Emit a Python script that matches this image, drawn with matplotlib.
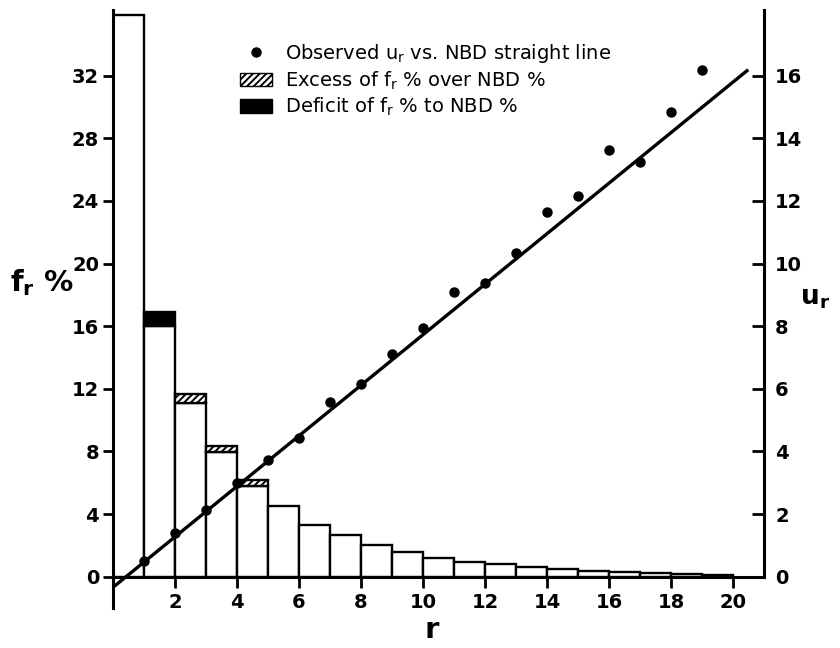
import matplotlib
matplotlib.use("Agg")
import matplotlib.pyplot as plt
import numpy as np
from matplotlib.lines import Line2D
from matplotlib.patches import Patch

plt.rcParams['font.family'] = ['DejaVu Sans']
plt.rcParams['hatch.linewidth'] = 1.4

# Frequency distribution f_r % (observed) and NBD expectation, r = 0..19
r_bins = np.arange(0, 20)
f_obs = [35.9, 16.0, 11.7, 8.35, 6.2, 4.5, 3.3, 2.65, 2.05, 1.55,
         1.2, 0.97, 0.82, 0.62, 0.48, 0.38, 0.30, 0.24, 0.18, 0.13]
f_nbd = [35.9, 16.9, 11.1, 7.95, 5.8, 4.5, 3.3, 2.65, 2.05, 1.55,
         1.2, 0.97, 0.82, 0.62, 0.48, 0.38, 0.30, 0.24, 0.18, 0.13]

# Observed u_r values and the fitted NBD straight line
r_pts = np.arange(1, 20)
u_obs = [0.50, 1.40, 2.12, 2.99, 3.74, 4.43, 5.59, 6.15, 7.12, 7.93,
         9.09, 9.37, 10.34, 11.66, 12.15, 13.63, 13.23, 14.84, 16.19]
line_r = [0.05, 20.45]
line_u = [-0.30, 16.16]

x_ticks = list(range(2, 21, 2))
f_ticks = list(range(0, 33, 4))
u_ticks = list(range(0, 17, 2))

fig = plt.figure(figsize=(8.4, 6.48), dpi=100)
ax = fig.add_axes([113 / 840, 40 / 648, 651 / 840, 598 / 648])
ax.set_xlim(0, 21)
ax.set_ylim(-2, 36.2)

obs = np.array(f_obs)
nbd = np.array(f_nbd)
base = np.minimum(obs, nbd)
lw_bar = 1.7
ax.bar(r_bins, base, width=1, align='edge', facecolor='white',
       edgecolor='black', linewidth=lw_bar, zorder=2)
excess = obs > nbd
ax.bar(r_bins[excess], (obs - nbd)[excess], bottom=nbd[excess], width=1,
       align='edge', facecolor='white', edgecolor='black', hatch='/////',
       linewidth=lw_bar, zorder=2)
deficit = nbd > obs
ax.bar(r_bins[deficit], (nbd - obs)[deficit], bottom=obs[deficit], width=1,
       align='edge', facecolor='black', edgecolor='black',
       linewidth=lw_bar, zorder=2)

# Left axis / bottom axis styling
for s in ('top', 'right'):
    ax.spines[s].set_visible(False)
ax.spines['bottom'].set_position(('data', 0))
ax.spines['left'].set_linewidth(2.2)
ax.spines['bottom'].set_linewidth(2.2)
ax.set_xticks(x_ticks)
ax.set_yticks(f_ticks)
ax.tick_params(axis='x', direction='out', length=8, width=2, labelsize=14, pad=4)
ax.tick_params(axis='y', direction='out', length=7, width=2, labelsize=14, pad=3)
for lbl in ax.get_xticklabels() + ax.get_yticklabels():
    lbl.set_fontweight('bold')

# Right axis for u_r
ax2 = ax.twinx()
ax2.set_ylim(-1, 18.1)
for s in ('top', 'left', 'bottom'):
    ax2.spines[s].set_visible(False)
ax2.spines['right'].set_bounds(0, 18.1)
ax2.spines['right'].set_linewidth(2.2)
ax2.set_yticks(u_ticks)
ax2.tick_params(axis='y', direction='in', length=9, width=2, labelsize=14, pad=8)
for lbl in ax2.get_yticklabels():
    lbl.set_fontweight('bold')

ax2.plot(line_r, line_u, color='black', linewidth=2.4, zorder=3)
ax2.plot(r_pts, u_obs, 'o', color='black', markersize=6.5, zorder=4)

handles = [
    Line2D([], [], marker='o', linestyle='none', color='black', markersize=6.5),
    Patch(facecolor='white', edgecolor='black', hatch='/////', linewidth=1),
    Patch(facecolor='black', edgecolor='black'),
]
labels = [
    r'Observed $\mathregular{u_r}$ vs. NBD straight line',
    r'Excess of $\mathregular{f_r}$ % over NBD %',
    r'Deficit of $\mathregular{f_r}$ % to NBD %',
]
fig.legend(handles, labels, loc='upper left',
           bbox_to_anchor=(240 / 840, 1 - 42 / 648),
           frameon=False, fontsize=14, handlelength=1.65,
           handletextpad=0.65, labelspacing=0.22, borderpad=0,
           borderaxespad=0)

fig.text(10 / 840, 1 - 283 / 648, r'$\mathregular{f_r}$ %', fontsize=21,
         fontweight='bold', ha='left', va='center')
fig.text(800 / 840, 1 - 298 / 648, r'$\mathregular{u_r}$', fontsize=19,
         fontweight='bold', ha='left', va='center')
fig.text(432 / 840, 1 - 630 / 648, 'r', fontsize=21,
         fontweight='bold', ha='center', va='center')

fig.savefig('out.png', dpi=100)
